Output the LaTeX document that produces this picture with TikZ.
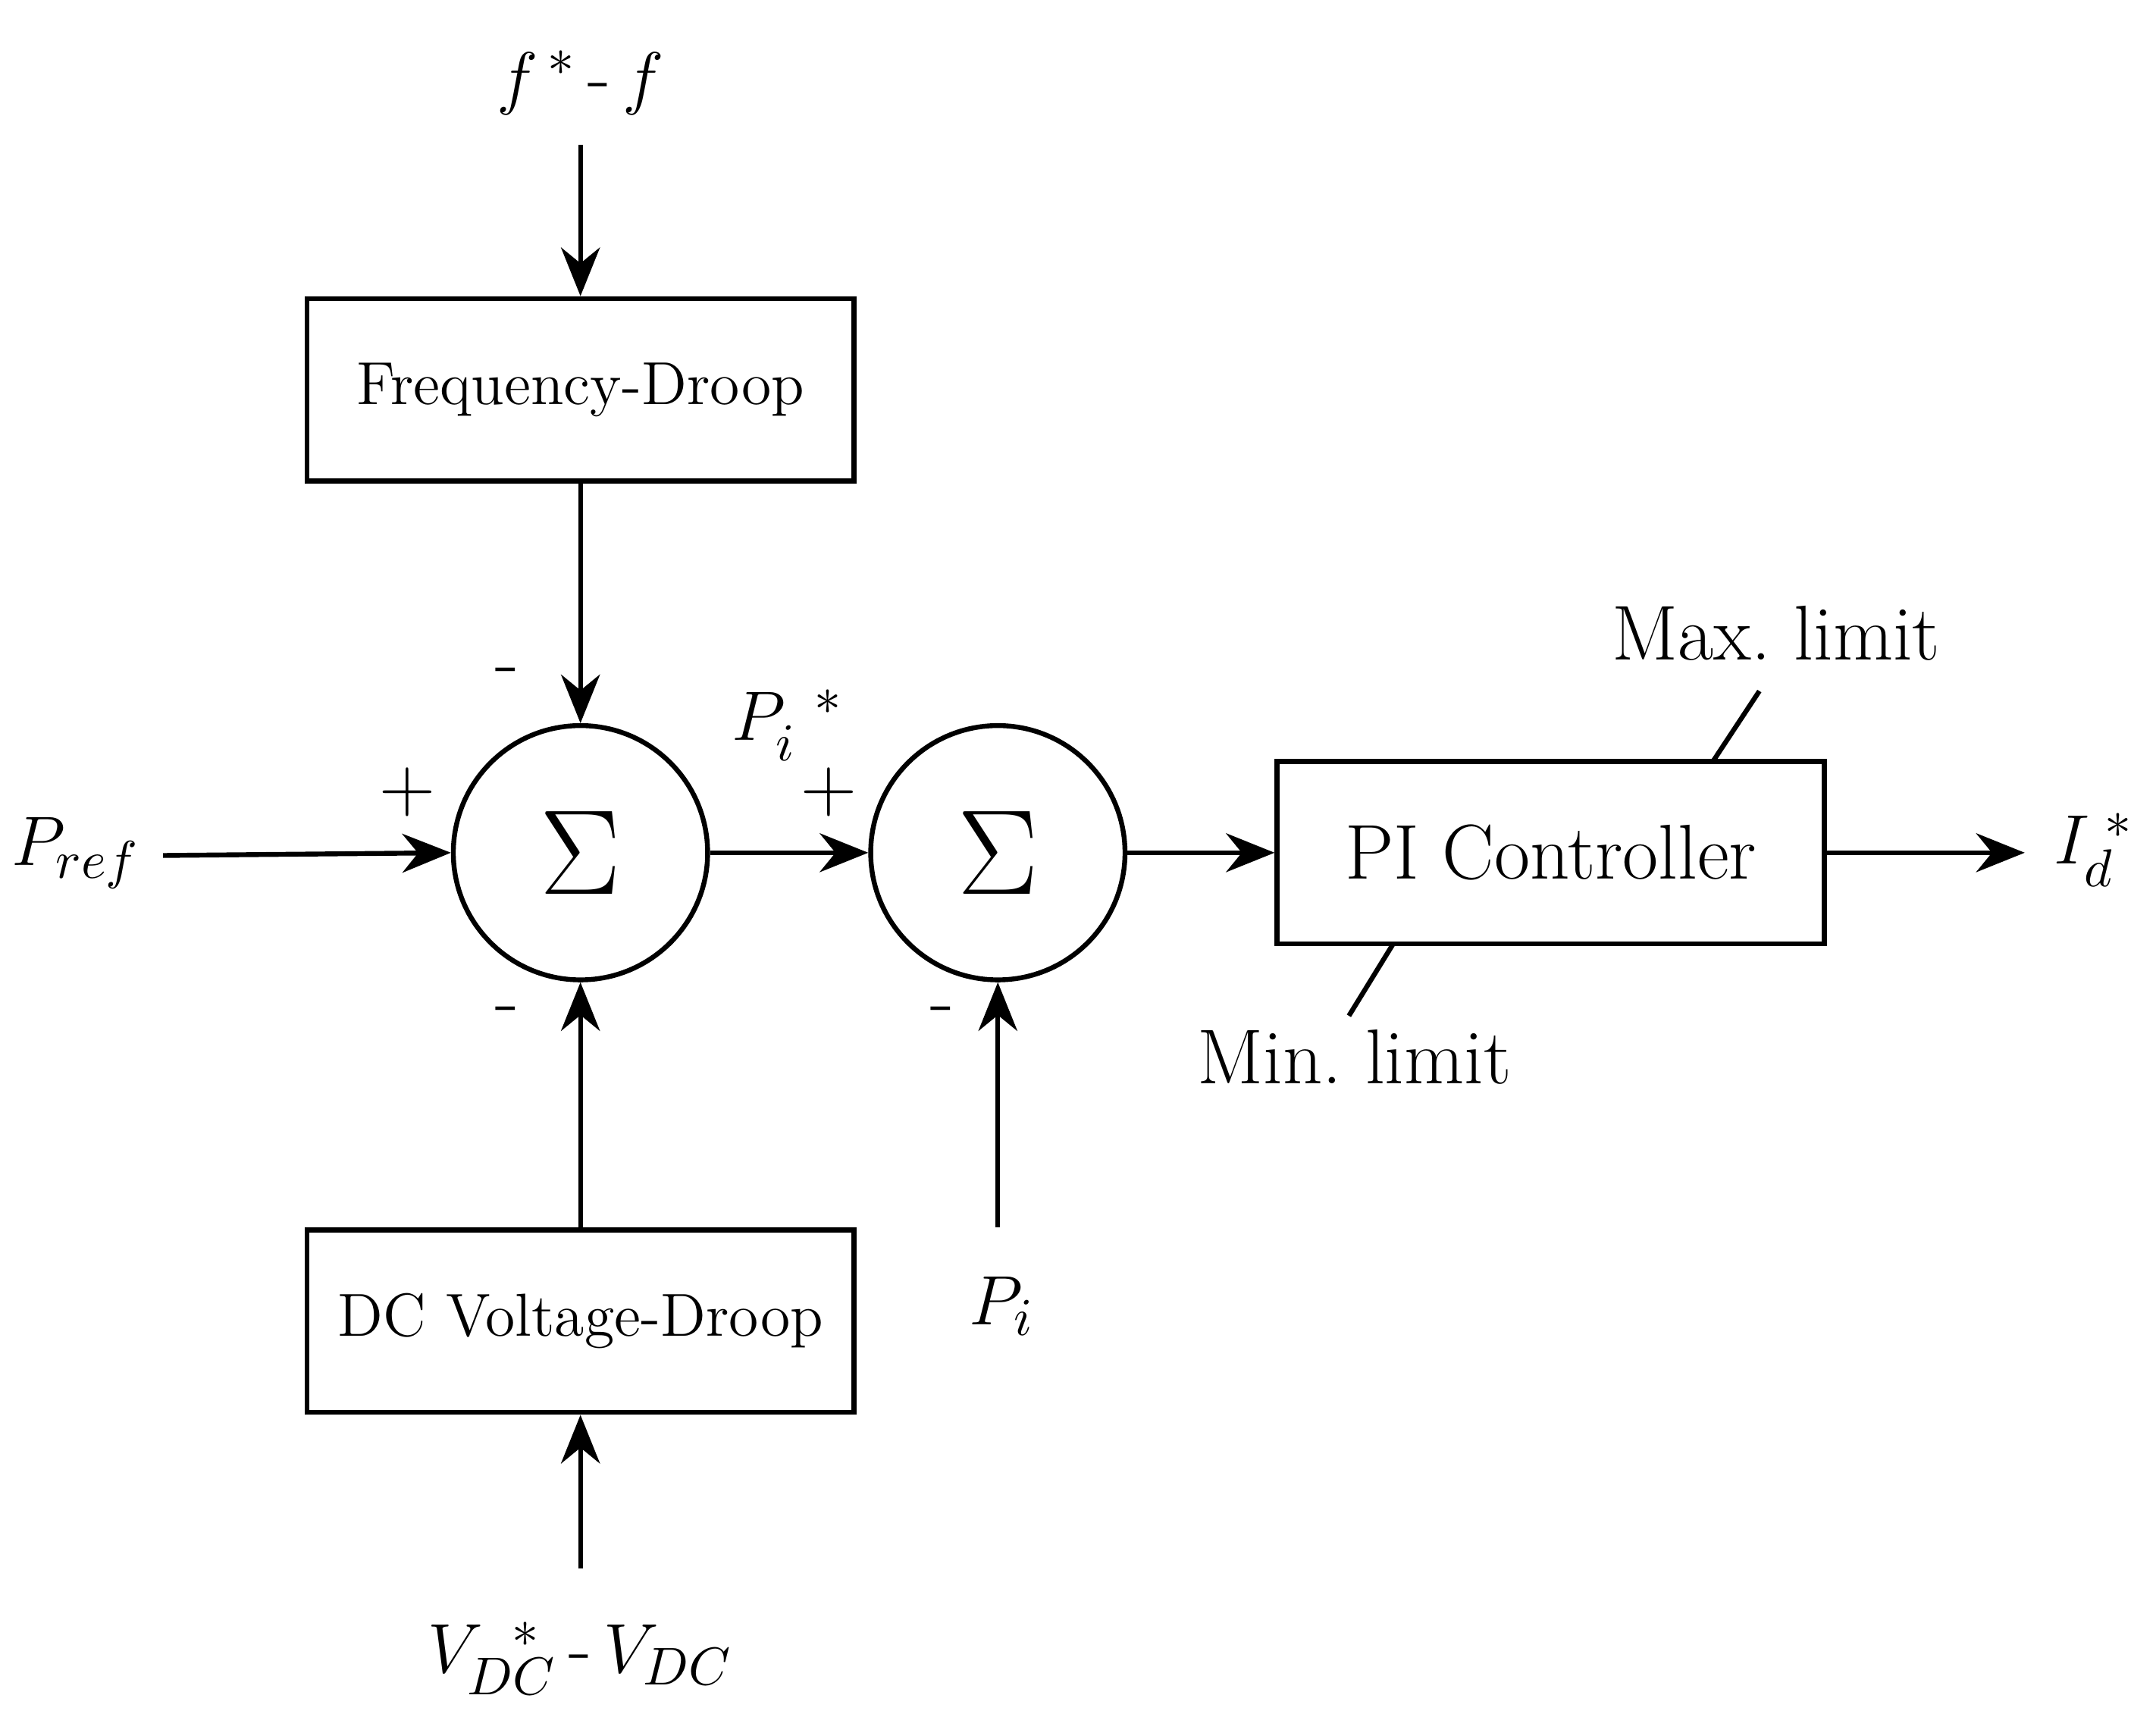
\documentclass[tikz,border=0pt]{standalone}
\usepackage{amsmath}
\usetikzlibrary{arrows.meta}
\begin{document}
\begin{tikzpicture}[
	blk/.style={draw, line width=1pt, minimum width=3.96cm, minimum height=1.32cm, font=\fontsize{12.5}{15}\selectfont},
	sumc/.style={draw, circle, line width=1pt, minimum size=1.84cm, inner sep=0pt, font=\fontsize{34}{36}\selectfont},
	sig/.style={font=\fontsize{15.5}{18}\selectfont},
	lbl/.style={font=\fontsize{16}{19}\selectfont},
	flow/.style={line width=1pt, -{Stealth[length=10pt, width=8pt]}}
]
	\useasboundingbox (0,0) rectangle (15.6,12.4);

	% Bloques
	\node[blk] (fd) at (4.20,9.58) {Frequency-Droop};
	\node[blk] (dc) at (4.20,2.84) {DC Voltage-Droop};
	\node[blk, font=\fontsize{16}{19}\selectfont] (pi) at (11.22,6.23) {PI Controller};
	\node[sumc] (s1) at (4.20,6.23) {$\Sigma$};
	\node[sumc] (s2) at (7.22,6.23) {$\Sigma$};

	% Entradas y salidas
	\node[sig] (ff) at (4.20,11.80) {$f^{\,*}\,\text{-}\,f$};
	\coordinate (ffa) at (4.20,11.35);
	\node[sig] (pref) at (0.55,6.23) {$P_{ref}$};
	\coordinate (prefa) at (1.18,6.21);
	\node[sig] (vdc) at (4.20,0.40) {$V_{DC}^{\;\;*}\,\text{-}\,V_{DC}$};
	\coordinate (vdca) at (4.20,1.05);
	\node[sig] (pi2) at (7.25,2.95) {$P_i$};
	\coordinate (pia) at (7.22,3.52);
	\node[sig] (id) at (15.15,6.25) {$I_d^{\;*}$};
	\coordinate (ida) at (14.65,6.23);
	\node[sig] (pstar) at (5.70,7.15) {$P_i^{\;\;*}$};

	% Conexiones
	\draw[flow] (ffa) -- (fd);
	\draw[flow] (fd) -- (s1);
	\draw[flow] (prefa) -- (s1.west);
	\draw[flow] (vdca) -- (dc);
	\draw[flow] (dc) -- (s1);
	\draw[flow] (s1) -- (s2);
	\draw[flow] (pia) -- (s2);
	\draw[flow] (s2) -- (pi);
	\draw[flow] (pi) -- (ida);

	% Signos
	\node[lbl] at (2.95,6.67) {+};
	\node[lbl] at (6.00,6.67) {+};
	\node[lbl] at (3.67,7.50) {-};
	\node[lbl] at (3.67,5.05) {-};
	\node[lbl] at (6.82,5.05) {-};

	% Limites
	\coordinate (mx) at (12.73,7.40);
	\coordinate (mn) at (9.76,5.05);
	\draw[line width=1pt] (12.40,6.90) -- (mx);
	\draw[line width=1pt] (10.08,5.57) -- (mn);
	\node[lbl] at (12.85,7.82) {Max.\ limit};
	\node[lbl] at (9.80,4.75) {Min.\ limit};
\end{tikzpicture}
\end{document}
